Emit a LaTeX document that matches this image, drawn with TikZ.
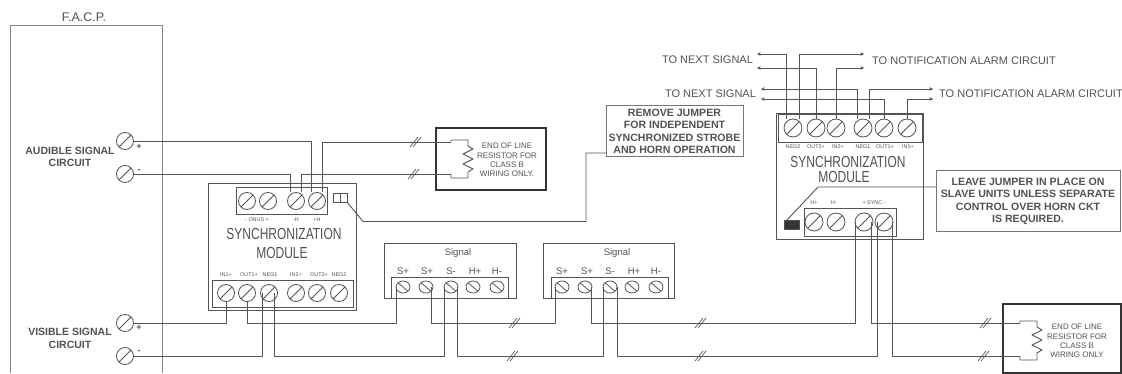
\documentclass[tikz,border=0pt]{standalone}
\usepackage{fontspec}
\usepackage{graphicx}
\setmainfont{Liberation Sans}
\usetikzlibrary{arrows.meta,shapes.geometric}
\definecolor{ink}{gray}{0.33}
\definecolor{txt}{gray}{0.32}
\tikzset{
  wire/.style={draw=ink,line width=0.9pt,line join=round},
  wirea/.style={wire,{Stealth[length=3.5pt,width=3.5pt]}-},
  frame/.style={draw=ink!80,line width=0.9pt},
  holder/.style={draw=ink,line width=0.9pt,rectangle,inner sep=0pt,outer sep=0pt},
  screw/.style={circle,draw=ink,line width=0.8pt,minimum size=#1,inner sep=0pt,outer sep=0pt,
    path picture={\draw[ink,line width=0.8pt] (path picture bounding box.south west)--(path picture bounding box.north east);}},
  screw/.default=17pt,
  flat/.style={ellipse,draw=ink,line width=0.8pt,minimum width=14pt,minimum height=12pt,inner sep=0pt,outer sep=0pt,
    path picture={\draw[ink,line width=0.8pt] (path picture bounding box.north west)--(path picture bounding box.south east);}},
  lab/.style={text=txt,inner sep=0pt,align=center,font=\fontsize{11}{12}\selectfont},
  bold/.style={text=txt,inner sep=0pt,align=center,font=\fontsize{10.6}{12.4}\selectfont\bfseries},
  tiny/.style={text=txt,inner sep=0pt,font=\fontsize{5.4}{6}\selectfont},
  eol/.style={text=txt,inner sep=0pt,align=center,font=\fontsize{8}{9.3}\selectfont},
  sig/.style={text=txt,inner sep=0pt,font=\fontsize{9.5}{11}\selectfont},
  pol/.style={text=txt,inner sep=0pt,font=\fontsize{9}{9}\selectfont\bfseries},
  title/.style={text=txt,inner sep=0pt,font=\fontsize{16}{18}\selectfont},
  thickbox/.style={draw=black!80,line width=1.6pt},
  dbl/.pic={\draw[ink,line width=0.7pt] (-5,5)--(3,-5) (-2,5)--(6,-5);}
}
\begin{document}
\begin{tikzpicture}[x=1pt,y=-1pt]
\useasboundingbox (0,0) rectangle (1122,374);
% panel
\draw[frame,draw=ink!70,line width=1pt] (10,373)--(10,26)--(162,26)--(162,373);
\node[lab,font=\fontsize{12.5}{14}\selectfont] (facp) at (84,17) {F.A.C.P.};
\node[bold,font=\fontsize{10.5}{12.4}\selectfont\bfseries] (aud) at (70,157) {AUDIBLE SIGNAL\\CIRCUIT};
\node[bold,font=\fontsize{10.5}{12.4}\selectfont\bfseries] (vis) at (70,338.5) {VISIBLE SIGNAL\\CIRCUIT};
\node[screw] (ap) at (125,141) {};
\node[screw] (an) at (125,174) {};
\node[screw] (vp) at (125,323) {};
\node[screw] (vn) at (125,356) {};
\node[pol] (apl) at (139,147) {+};
\node[pol] (anl) at (139,171) {-};
\node[pol] (vpl) at (139,328) {+};
\node[pol] (vnl) at (139,352) {-};
% module 1
\node[holder,minimum width=148pt,minimum height=127pt] (m1) at (282,246.5) {};
\node[holder,minimum width=91pt,minimum height=27pt] (m1top) at (281.5,200.5) {};
\node[holder,minimum width=141pt,minimum height=27pt] (m1bot) at (282.5,293.5) {};
\foreach \n/\x in {1/247,2/268,3/296,4/317}{\node[screw] (m1a\n) at (\x,201) {};}
\foreach \n/\x in {1/226,2/247,3/269,4/296,5/317,6/339}{\node[screw] (m1b\n) at (\x,293) {};}
\node[tiny] (ta1) at (257,219.5) {- ONUS +};
\node[tiny] (ta2) at (296,219.5) {-H};
\node[tiny] (ta3) at (317,219.5) {+H};
\foreach \n/\x/\t in {1/226/IN1+,2/249/OUT1+,3/270/NEG1,4/296/IN2+,5/319/OUT2+,6/339/NEG2}{\node[tiny] (tb\n) at (\x,275) {\t};}
\node[title] (m1t1) at (284,234) {\scalebox{0.75}[1]{SYNCHRONIZATION}};
\node[title] (m1t2) at (282,253) {\scalebox{0.75}[1]{MODULE}};
\node[holder,minimum width=14pt,minimum height=9pt] (jm1) at (340,197.5) {};
\draw[ink,line width=0.8pt] (jm1.north)--(jm1.south);
% callout 1
\node[holder,bold,line width=1pt,draw=ink!80,minimum width=137pt,minimum height=51pt] (c1) at (674.5,131.5) {REMOVE JUMPER\\FOR INDEPENDENT\\SYNCHRONIZED STROBE\\AND HORN OPERATION};
\coordinate (j1a) at (363,221.5);
\coordinate (j1b) at (586,221.5);
\draw[wire] (jm1.south east)--(j1a)--(j1b)|-([yshift=-21.5pt]c1.west);
% end of line 1
\node[holder,thickbox,minimum width=110pt,minimum height=62pt] (e1) at (491,159) {};
\node[eol] (e1t) at (507,160) {END OF LINE\\RESISTOR FOR\\CLASS B\\WIRING ONLY.};
\coordinate (r1a) at (451,142);
\coordinate (r1b) at (451,174);
\draw[wire] (r1a)--++(0,-2)--++(17,0)--++(0,6)--++(5,3)--++(-10,5)--++(10,5)--++(-10,5)--++(10,5)--++(-5,3)--++(0,6)--++(-17,0)--(r1b);
\draw[wire] (ap.east)-|([xshift=-6pt]m1a4.north);
\draw[wire] (an.east)-|([xshift=-6pt]m1a3.north);
\draw[wire] ([xshift=5pt]m1a4.north)|-(r1a);
\draw[wire] ([xshift=5pt]m1a3.north)|-(r1b);
\pic at (415,142) {dbl};
\pic at (413,174) {dbl};
% signals
\coordinate (bus1) at (0,323);
\coordinate (bus2) at (0,356);
\node[holder,minimum width=132pt,minimum height=55pt] (s1) at (450,270.5) {};
\node[holder,minimum width=117pt,minimum height=21pt] (s1s) at (449.5,287.5) {};
\node[holder,minimum width=131pt,minimum height=55pt] (s2) at (608.5,270.5) {};
\node[holder,minimum width=117pt,minimum height=21pt] (s2s) at (609.5,287.5) {};
\node[sig] (s1n) at (458,253) {Signal};
\node[sig] (s2n) at (617,253) {Signal};
\foreach \n/\x/\t in {1/403/S+,2/427/S+,3/451/S-,4/475/H+,5/497/H-}{\node[sig] (s1l\n) at (\x,271) {\t};}
\foreach \n/\x/\t in {1/562/S+,2/587/S+,3/610/S-,4/634/H+,5/656/H-}{\node[sig] (s2l\n) at (\x,271) {\t};}
\foreach \n/\x in {1/403,2/426,3/451,4/473,5/497}{\node[flat] (s1t\n) at (\x,287) {};}
\foreach \n/\x in {1/562,2/585,3/610,4/632,5/656}{\node[flat] (s2t\n) at (\x,287) {};}
% module 2
\node[holder,minimum width=147pt,minimum height=126pt] (m2) at (849.5,176) {};
\node[holder,minimum width=144pt,minimum height=28pt] (m2top) at (850,128) {};
\node[holder,minimum width=92pt,minimum height=28pt] (m2bot) at (850,222) {};
\foreach \n/\x in {1/793,2/816,3/836,4/863,5/884,6/907}{\node[screw=18pt] (m2a\n) at (\x,128) {};}
\foreach \n/\x in {1/814,2/836,3/864,4/884}{\node[screw=18pt] (m2c\n) at (\x,222) {};}
\foreach \n/\x/\t in {1/793/NEG2,2/816/OUT2+,3/838/IN2+,4/863/NEG1,5/885/OUT1+,6/908/IN1+}{\node[tiny] (tc\n) at (\x,147) {\t};}
\node[tiny] (td1) at (814,203) {H+};
\node[tiny] (td2) at (834,203) {H-};
\node[tiny] (td3) at (874,203) {+ SYNC -};
\node[title] (m2t1) at (848,162) {\scalebox{0.75}[1]{SYNCHRONIZATION}};
\node[title] (m2t2) at (844,177) {\scalebox{0.75}[1]{MODULE}};
\node[holder,fill=black!80,minimum width=15pt,minimum height=9pt] (jm2) at (792,224.5) {};
\node[holder,bold,line width=1pt,draw=ink!80,minimum width=184pt,minimum height=61pt] (c2) at (1028,201.5) {LEAVE JUMPER IN PLACE ON\\SLAVE UNITS UNLESS SEPARATE\\CONTROL OVER HORN CKT\\IS REQUIRED.};
\coordinate (j2a) at (818,187);
\draw[wire] ([xshift=-5pt]jm2.north)--(j2a)--(c2.west|-j2a);
% end of line 2
\node[holder,thickbox,minimum width=118pt,minimum height=69pt] (e2) at (1062,338.5) {};
\node[eol] (e2t) at (1077,341) {END OF LINE\\RESISTOR FOR\\CLASS B\\WIRING ONLY};
\coordinate (r2a) at (1020,323);
\coordinate (r2b) at (1020,356);
\draw[wire] (r2a)--++(0,-2)--++(17,0)--++(0,6)--++(5,3)--++(-10,5)--++(10,5)--++(-10,5)--++(10,5)--++(-5,3)--++(0,7)--++(-17,0)--(r2b);
% bottom wires
\draw[wire] (vp.east)-|(m1b1.south);
\draw[wire] (vn.east)-|([xshift=-7pt]m1b3.center);
\draw[wire] (m1b2.south)|-(s1t1.west|-bus1)--(s1t1.west);
\draw[wire] ([xshift=5pt]m1b3.center)|-([xshift=-7pt]s1t3.center|-bus2)--([xshift=-7pt]s1t3.center);
\draw[wire] ([xshift=5pt]s1t2.center)|-(s2t1.west|-bus1)--(s2t1.west);
\draw[wire] ([xshift=6pt]s1t3.center)|-([xshift=-7pt]s2t3.center|-bus2)--([xshift=-7pt]s2t3.center);
\draw[wire] ([xshift=6pt]s2t2.center)|-(m2c3.west|-bus1)--(m2c3.west);
\draw[wire] ([xshift=7pt]s2t3.center)|-([xshift=-7pt]m2c4.center|-bus2)--([xshift=-7pt]m2c4.center);
\draw[wire] ([xshift=7pt]m2c3.center)|-(r2a);
\draw[wire] ([xshift=8pt]m2c4.center)|-(r2b);
\pic at (514,323) {dbl};
\pic at (512,356) {dbl};
\pic at (700,323) {dbl};
\pic at (700,356) {dbl};
\pic at (985,323) {dbl};
\pic at (983,356) {dbl};
% top wires
\coordinate (n1) at (757,54);
\coordinate (n2) at (864,54);
\coordinate (n3) at (757,68);
\coordinate (n4) at (864,68);
\coordinate (n5) at (761,89);
\coordinate (n6) at (933,89);
\coordinate (n7) at (761,99);
\coordinate (n8) at (933,99);
\draw[wirea] (n1)-|([xshift=-7pt]m2a1.north);
\draw[wirea] (n2)-|([xshift=6pt]m2a1.north);
\draw[wirea] (n3)-|(m2a2.north);
\draw[wirea] (n4)-|(m2a3.north);
\draw[wirea] (n5)-|([xshift=-6pt]m2a4.north);
\draw[wirea] (n6)-|([xshift=6pt]m2a4.north);
\draw[wirea] (n7)-|(m2a5.north);
\draw[wirea] (n8)-|(m2a6.north);
\node[lab] (nx1) at (707.5,60) {TO NEXT SIGNAL};
\node[lab] (nx2) at (710.5,94) {TO NEXT SIGNAL};
\node[lab,anchor=west] (al1) at (872,61) {TO NOTIFICATION ALARM CIRCUIT};
\node[lab,anchor=west] (al2) at (939,94) {TO NOTIFICATION ALARM CIRCUIT};
\end{tikzpicture}
\end{document}
